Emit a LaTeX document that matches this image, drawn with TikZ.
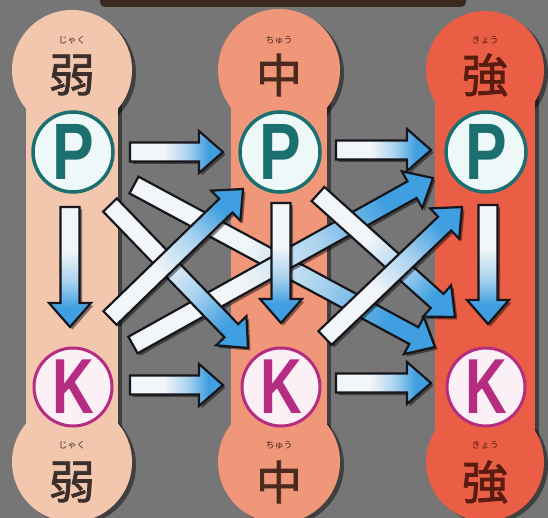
\documentclass[tikz,border=0pt]{standalone}
\usepackage{fontspec}
\usepackage{graphicx}
\newfontfamily\cjk{Noto Sans CJK JP}
\newfontfamily\cjkb{Noto Sans CJK JP}[FakeBold=1.6]
\newfontfamily\lat{Liberation Sans}
\usetikzlibrary{calc}
\definecolor{bgc}{HTML}{767676}
\definecolor{topbar}{HTML}{3A2A20}
\definecolor{colW}{HTML}{F3C6AE}
\definecolor{colM}{HTML}{F0977A}
\definecolor{colS}{HTML}{EB5E46}
\definecolor{tealc}{HTML}{1B6F6E}
\definecolor{pfill}{HTML}{EEF8F8}
\definecolor{magc}{HTML}{B52D80}
\definecolor{kfill}{HTML}{FCF0F7}
\definecolor{arrwhite}{HTML}{F3F6F8}
\definecolor{arrmid}{HTML}{A9D2EF}
\definecolor{arrblue}{HTML}{3F9FE0}
\definecolor{arrline}{HTML}{16161C}
\definecolor{txtW}{HTML}{3B2F2C}
\definecolor{txtM}{HTML}{4A2A1E}
\definecolor{txtS}{HTML}{5A1C10}
\pgfdeclarehorizontalshading{arrsh}{100bp}{color(0bp)=(arrwhite); color(25bp)=(arrwhite); color(43bp)=(arrwhite); color(56bp)=(arrmid); color(67bp)=(arrblue); color(100bp)=(arrblue)}
\makeatletter
\newdimen\baX
\newdimen\baY
\newcommand\arrowpoly{(0,-9.5) -- ({\balen-24},-9.5) -- ({\balen-24},-21) -- (\balen,0) -- ({\balen-24},21) -- ({\balen-24},9.5) -- (0,9.5) -- cycle}
\newcommand\blockarrow[2]{%
  \path #1 coordinate (bas) #2 coordinate (bae);%
  \pgfpointdiff{\pgfpointanchor{bas}{center}}{\pgfpointanchor{bae}{center}}%
  \baX=\pgf@x \baY=\pgf@y
  \pgfmathsetmacro\baang{atan2(\baY,\baX)}%
  \pgfmathsetmacro\balen{veclen(\baX,\baY)}%
  \begin{scope}[transform canvas={shift={($(bas)+(2.5,2.5)$)},rotate=\baang}]
    \fill[black,opacity=.45] \arrowpoly;
  \end{scope}
  \begin{scope}[transform canvas={shift={(bas)},rotate=\baang}]
    \shadedraw[shading=arrsh, draw=arrline, line width=2.2pt, line join=miter] \arrowpoly;
  \end{scope}
}
\makeatother
\begin{document}
\begin{tikzpicture}[x=1pt,y=-1pt,
  pcirc/.style={circle, draw=tealc, line width=3.5pt, fill=pfill, minimum size=80pt, inner sep=0pt, text=tealc, font=\fontsize{80}{80}\selectfont\lat\bfseries},
  kcirc/.style={circle, draw=magc, line width=3pt, fill=kfill, minimum size=78pt, inner sep=0pt, text=magc, font=\fontsize{78}{78}\selectfont\lat\bfseries},
  kanji/.style={inner sep=0pt, font=\fontsize{46}{46}\selectfont\cjkb},
  furi/.style={inner sep=0pt, font=\fontsize{9}{9}\selectfont\cjk},
  pshadow/.style={fill=black, opacity=.45}]
\useasboundingbox (0,0) rectangle (548,518);
\fill[bgc] (0,0) rectangle (548,518);
\fill[topbar, rounded corners=5pt] (100,-8) rectangle (466,7);
% pillar shadows
\foreach \cx/\hw/\r in {72/46/60, 279/48/61, 485/50/59}{
  \fill[pshadow] (\cx+4,73) circle[radius=\r pt];
  \fill[pshadow] (\cx+4,465) circle[radius=\r pt];
  \fill[pshadow] (\cx-\hw+4,73) rectangle (\cx+\hw+4,465);
}
% pillars
\foreach \cx/\hw/\r/\c in {72/46/60/colW, 279/48/61/colM, 485/50/59/colS}{
  \fill[\c] (\cx,70) circle[radius=\r pt];
  \fill[\c] (\cx,462) circle[radius=\r pt];
  \fill[\c] (\cx-\hw,70) rectangle (\cx+\hw,462);
}
% labels
\node[furi, text=txtW] (fw1) at (72,40) {じゃく};
\node[kanji, text=txtW] (kw1) at (72,75) {弱};
\node[furi, text=txtM] (fm1) at (279,40) {ちゅう};
\node[kanji, text=txtM] (km1) at (279,75) {中};
\node[furi, text=txtS] (fs1) at (485,40) {きょう};
\node[kanji, text=txtS] (ks1) at (485,75) {強};
\node[furi, text=txtW] (fw2) at (72,445) {じゃく};
\node[kanji, text=txtW] (kw2) at (72,482) {弱};
\node[furi, text=txtM] (fm2) at (279,445) {ちゅう};
\node[kanji, text=txtM] (km2) at (279,482) {中};
\node[furi, text=txtS] (fs2) at (485,445) {きょう};
\node[kanji, text=txtS] (ks2) at (485,482) {強};
% circles
\node[pcirc] (Pw) at (73,152) {\scalebox{0.78}[1]{P}};
\node[pcirc] (Pm) at (280,152) {\scalebox{0.78}[1]{P}};
\node[pcirc] (Ps) at (486,152) {\scalebox{0.78}[1]{P}};
\node[kcirc] (Kw) at (73,387) {\scalebox{0.74}[1]{K}};
\node[kcirc] (Km) at (281,387) {\scalebox{0.74}[1]{K}};
\node[kcirc] (Ks) at (486,387) {\scalebox{0.74}[1]{K}};
% diagonal arrows (bottom layers first)
\blockarrow{($(Pw)+(61,33)$)}{($(Ks)+(-51,-40)$)}
\blockarrow{($(Kw)+(60,-42)$)}{($(Ps)+(-53,26)$)}
\blockarrow{($(Pw)+(37,53)$)}{($(Km)+(-33,-39)$)}
\blockarrow{($(Kw)+(37,-69)$)}{($(Pm)+(-37,37)$)}
% vertical middle
\blockarrow{($(Pm)+(1,51)$)}{($(Km)+(0,-64)$)}
\blockarrow{($(Pm)+(38,42)$)}{($(Ks)+(-31,-70)$)}
\blockarrow{($(Km)+(44,-49)$)}{($(Ps)+(-24,55)$)}
% horizontal arrows
\blockarrow{($(Pw)+(57,0)$)}{($(Pm)+(-57,0)$)}
\blockarrow{($(Pm)+(56,-2)$)}{($(Ps)+(-55,-2)$)}
\blockarrow{($(Kw)+(57,-2)$)}{($(Km)+(-58,-2)$)}
\blockarrow{($(Km)+(55,-4)$)}{($(Ks)+(-55,-4)$)}
% vertical sides
\blockarrow{($(Pw)+(-3,55)$)}{($(Kw)+(-3,-60)$)}
\blockarrow{($(Ps)+(2,53)$)}{($(Ks)+(2,-63)$)}
\end{tikzpicture}
\end{document}
